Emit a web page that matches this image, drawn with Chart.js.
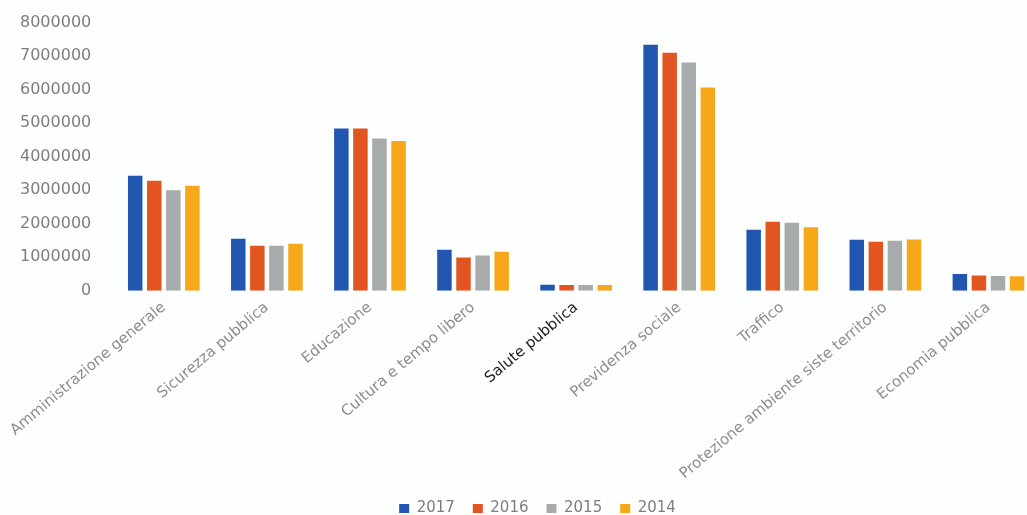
<!DOCTYPE html>
<html>
<head>
<meta charset="utf-8">
<script src="https://cdn.jsdelivr.net/npm/chart.js@4/dist/chart.umd.min.js"></script>
<style>
  html, body { margin: 0; padding: 0; background: #fdfefe; overflow: hidden; }
  #wrap { width: 1040px; height: 515px; position: relative; }
</style>
</head>
<body>
<div id="wrap"><canvas id="spesaChart"></canvas></div>
<script>
const categorie = [
    'Amministrazione generale',
    'Sicurezza pubblica',
    'Educazione',
    'Cultura e tempo libero',
    'Salute pubblica',
    'Previdenza sociale',
    'Traffico',
    'Protezione ambiente siste territorio',
    'Economia pubblica'
];
const anni = ['2017', '2016', '2015', '2014'];
const valori2017 = [3430000, 1550000, 4840000, 1220000, 180000, 7340000, 1820000, 1520000, 500000];
const valori2016 = [3280000, 1340000, 4840000, 990000, 170000, 7100000, 2060000, 1460000, 450000];
const valori2015 = [3000000, 1340000, 4540000, 1050000, 170000, 6810000, 2030000, 1490000, 440000];
const valori2014 = [3130000, 1400000, 4470000, 1160000, 170000, 6060000, 1890000, 1530000, 430000];
const colori = ['#2156b0', '#e25520', '#a8abab', '#f7a81a'];

// legenda leggermente spostata a destra come nell'originale
const spostaLegenda = {
    id: 'spostaLegenda',
    afterLayout(chart) {
        if (!chart.legend) return;
        chart.legend.left += 14;
        chart.legend.right += 14;
    }
};

const ctx = document.getElementById('spesaChart').getContext('2d');
new Chart(ctx, {
    type: 'bar',
    data: {
        labels: categorie,
        datasets: [valori2017, valori2016, valori2015, valori2014].map((serie, i) => ({
            label: anni[i],
            data: serie,
            backgroundColor: colori[i],
            borderWidth: 0,
            barPercentage: 0.76,
            categoryPercentage: 0.74
        }))
    },
    options: {
        responsive: true,
        maintainAspectRatio: false,
        animation: false,
        layout: { padding: { top: 7, left: 7, right: 0, bottom: -11 } },
        plugins: {
            tooltip: { enabled: false },
            legend: {
                position: 'bottom',
                labels: {
                    boxWidth: 10,
                    boxHeight: 9,
                    padding: 18,
                    color: '#7b7f80',
                    font: { family: 'DejaVu Sans', size: 15 }
                }
            }
        },
        scales: {
            x: {
                grid: { display: false },
                border: { display: false },
                ticks: {
                    minRotation: 40,
                    maxRotation: 40,
                    autoSkip: false,
                    padding: 0,
                    font: { family: 'DejaVu Sans', size: 15 },
                    color: function (context) {
                        return context.index === 4 ? '#222222' : '#8a8e90';
                    }
                }
            },
            y: {
                min: 0,
                max: 8000000,
                grid: { display: false },
                border: { display: false },
                ticks: {
                    stepSize: 1000000,
                    padding: 13,
                    color: '#7b7f80',
                    font: { family: 'DejaVu Sans', size: 16 },
                    callback: (value) => String(value)
                }
            }
        }
    },
    plugins: [spostaLegenda]
});
</script>
</body>
</html>
